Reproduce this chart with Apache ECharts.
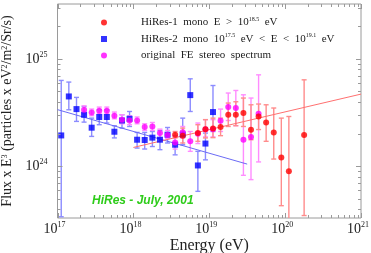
<!DOCTYPE html>
<html><head><meta charset="utf-8">
<script src="https://cdn.jsdelivr.net/npm/echarts@6/dist/echarts.min.js"></script>
<style>html,body{margin:0;padding:0;background:#fff}#c{width:371px;height:253px}</style>
</head><body><div id="c"></div>
<script>
// ---- data (energy in eV, flux x E^3) ----
const hires2E  = [1.12e17,1.41e17,1.78e17,2.24e17,2.82e17,3.55e17,4.47e17,5.62e17,7.08e17,8.91e17,1.12e18,1.41e18,1.78e18,2.24e18,2.82e18,3.55e18,4.47e18,5.62e18,7.08e18,8.91e18,1.12e19];
const hires2F  = [1.94e24,4.47e24,3.41e24,3.02e24,2.29e24,2.88e24,2.88e24,2.10e24,2.67e24,2.77e24,1.77e24,1.76e24,1.85e24,1.77e24,1.97e24,1.59e24,1.98e24,4.60e24,1.02e24,1.63e24,3.20e24];
const hires2Hi = [6.30e24,6.08e24,4.38e24,3.61e24,2.81e24,3.36e24,3.36e24,2.39e24,3.02e24,3.24e24,2.07e24,2.07e24,2.11e24,2.16e24,2.30e24,1.93e24,2.81e24,6.52e24,1.38e24,2.04e24,5.65e24];
const hires2Lo = [3.40e23,3.36e24,2.62e24,2.58e24,1.90e24,2.44e24,2.53e24,1.84e24,2.27e24,2.35e24,1.48e24,1.45e24,1.53e24,1.43e24,1.65e24,1.28e24,1.59e24,3.24e24,5.86e23,1.15e24,2.11e24];

const hires1E  = [3.55e18,4.47e18,7.08e18,8.91e18,1.12e19,1.41e19,1.78e19,2.24e19,2.82e19,3.55e19,4.47e19,5.62e19,7.08e19,8.91e19,1.12e20,1.78e20];
const hires1F  = [1.97e24,1.93e24,2.04e24,2.22e24,2.25e24,2.32e24,3.02e24,3.02e24,3.13e24,2.19e24,2.91e24,2.56e24,2.07e24,1.21e24,9.00e23,1.96e24];
const hires1Hi = [2.11e24,2.27e24,2.44e24,2.72e24,2.81e24,2.81e24,3.88e24,3.99e24,4.32e24,3.74e24,3.80e24,3.74e24,3.49e24,2.81e24,2.91e24,6.38e24];
const hires1Lo = [1.84e24,1.65e24,1.71e24,1.84e24,1.85e24,1.93e24,2.35e24,2.39e24,2.35e24,1.77e24,2.20e24,1.71e24,1.17e24,4.31e23,2.00e23,3.49e23];

const feE  = [2.24e17,2.82e17,3.55e17,4.47e17,5.62e17,7.08e17,8.91e17,1.12e18,1.41e18,1.78e18,2.24e18,2.82e18,3.55e18,4.47e18,5.62e18,7.08e18,8.91e18,1.12e19,1.41e19,1.78e19,2.24e19,2.82e19,3.55e19,4.47e19];
const feF  = [3.36e24,3.17e24,3.29e24,3.29e24,2.96e24,2.72e24,2.67e24,2.67e24,2.32e24,2.35e24,2.04e24,1.96e24,1.67e24,2.08e24,1.71e24,2.01e24,2.22e24,2.22e24,2.66e24,3.56e24,3.49e24,1.77e24,1.88e24,3.08e24];
const feHi = [3.66e24,3.41e24,3.56e24,3.56e24,3.20e24,3.02e24,2.96e24,2.88e24,2.49e24,2.56e24,2.22e24,2.16e24,1.88e24,2.35e24,2.11e24,2.53e24,2.72e24,2.72e24,3.41e24,4.81e24,5.08e24,4.63e24,4.32e24,7.10e24];
const feLo = [3.08e24,2.96e24,3.08e24,3.08e24,2.77e24,2.49e24,2.44e24,2.49e24,2.16e24,2.16e24,1.85e24,1.81e24,1.45e24,1.84e24,1.38e24,1.63e24,1.88e24,1.88e24,2.11e24,2.67e24,2.39e24,8.26e23,7.53e23,1.10e24];

const hires2FitE = [1e17, 3.16e19];
const hires2FitF = [3.37e24, 1.05e24];
const hires1FitE = [1e18, 1e21];
const hires1FitF = [1.50e24, 4.70e24];

const xMajorTicks = [1e17, 1e18, 1e19, 1e20, 1e21];
const yMajorTicks = [1e24, 1e25];
const xMin = 1e17, xMax = 1e21;
const yMin = Math.pow(10, 23.52), yMax = Math.pow(10, 25.51);

const seriesNames = ['HiRes-1 mono', 'HiRes-2 mono', 'original FE stereo spectrum'];
const legendRich = {
  'HiRes-1 mono': '{g|}HiRes-1  mono  E  >  10{s|18.5}  eV',
  'HiRes-2 mono': '{g|}HiRes-2  mono  10{s|17.5}  eV  <  E  <  10{s|19.1}  eV',
  'original FE stereo spectrum': '{g|}original  FE  stereo  spectrum'
};
const annotation = 'HiRes - July, 2001';

// ---- helpers ----
const SERIF = "'Liberation Serif','DejaVu Serif',serif";
const frameColor = '#9a9a9a';

function errSeries(E, Lo, Hi, color) {
  return {
    type: 'custom', silent: true, clip: true, z: 1,
    encode: { x: 0, y: [1, 2] },
    data: E.map((e, i) => [e, Lo[i], Hi[i]]),
    renderItem(params, api) {
      const x = api.value(0);
      const a = api.coord([x, api.value(1)]);
      const b = api.coord([x, api.value(2)]);
      const c = 2.5;
      const st = { stroke: color, lineWidth: 1.4 };
      return { type: 'group', children: [
        { type: 'line', shape: { x1: a[0], y1: a[1], x2: b[0], y2: b[1] }, style: st },
        { type: 'line', shape: { x1: a[0] - c, y1: a[1], x2: a[0] + c, y2: a[1] }, style: st },
        { type: 'line', shape: { x1: b[0] - c, y1: b[1], x2: b[0] + c, y2: b[1] }, style: st }
      ]};
    }
  };
}

// tick list: [x, y, kind(0=x tick,1=y tick), length]
const tickData = [];
xMajorTicks.forEach(v => tickData.push([v, 1e24, 0, 5]));
for (let n = 17; n < 21; n++) for (let k = 2; k <= 9; k++) tickData.push([k * Math.pow(10, n), 1e24, 0, 3]);
yMajorTicks.forEach(v => tickData.push([1e18, v, 1, 5]));
for (let n = 23; n <= 25; n++) for (let k = 2; k <= 9; k++) {
  const v = k * Math.pow(10, n);
  if (v > yMin && v < yMax) tickData.push([1e18, v, 1, 3]);
}

const tickSeries = {
  type: 'custom', silent: true, z: 5, clip: false,
  encode: { x: 0, y: 1 },
  data: tickData,
  renderItem(params, api) {
    const cs = params.coordSys;
    const p = api.coord([api.value(0), api.value(1)]);
    const len = api.value(3);
    const st = { stroke: frameColor, lineWidth: 1 };
    if (api.value(2) === 0) {
      const x = Math.round(p[0]) + 0.5;
      return { type: 'group', children: [
        { type: 'line', shape: { x1: x, y1: cs.y + cs.height, x2: x, y2: cs.y + cs.height - len }, style: st },
        { type: 'line', shape: { x1: x, y1: cs.y, x2: x, y2: cs.y + len }, style: st }
      ]};
    } else {
      const y = Math.round(p[1]) + 0.5;
      return { type: 'group', children: [
        { type: 'line', shape: { x1: cs.x, y1: y, x2: cs.x + len, y2: y }, style: st },
        { type: 'line', shape: { x1: cs.x + cs.width, y1: y, x2: cs.x + cs.width - len, y2: y }, style: st }
      ]};
    }
  }
};

function powLabel(v) {
  const l = Math.log10(v);
  const e = Math.round(l);
  if (Math.abs(l - e) > 1e-6) return '';
  return '{b|10}{s|' + e + '}';
}
const labelRich = {
  b: { fontFamily: SERIF, fontSize: 14, color: '#222', lineHeight: 16 },
  s: { fontFamily: SERIF, fontSize: 8, color: '#222', lineHeight: 8, verticalAlign: 'top' }
};

const chart = echarts.init(document.getElementById('c'), null, { renderer: 'canvas' });
chart.setOption({
  animation: false,
  backgroundColor: '#fff',
  grid: { left: 57.5, right: 10, top: 4, bottom: 35, containLabel: false, outerBoundsMode: 'none',
    show: true, borderColor: frameColor, borderWidth: 1, backgroundColor: 'transparent' },
  xAxis: {
    type: 'log', logBase: 10, min: xMin, max: xMax,
    axisLine: { show: false }, axisTick: { show: false }, splitLine: { show: false }, minorTick: { show: false },
    axisLabel: { formatter: powLabel, rich: labelRich, margin: 3, padding: [0, 6, 0, 0], showMinLabel: true, showMaxLabel: true, hideOverlap: false },
    name: 'Energy (eV)', nameLocation: 'middle', nameGap: 20, nameMoveOverlap: false,
    nameTextStyle: { fontFamily: SERIF, fontSize: 16, color: '#222', lineHeight: 16 }
  },
  yAxis: {
    type: 'log', logBase: 10, min: yMin, max: yMax,
    axisLine: { show: false }, axisTick: { show: false }, splitLine: { show: false }, minorTick: { show: false },
    axisLabel: { formatter: powLabel, rich: labelRich, margin: 10 },
    name: 'Flux x E{s|3} (particles x eV{s|2}/m{s|2}/Sr/s)', nameLocation: 'middle', nameGap: 43, nameRotate: 90, nameMoveOverlap: false,
    nameTextStyle: { fontFamily: SERIF, fontSize: 14, color: '#222',
      rich: { s: { fontFamily: SERIF, fontSize: 8, color: '#222', verticalAlign: 'top', lineHeight: 8 } } }
  },
  legend: {
    orient: 'vertical', left: 96, top: 11, itemWidth: 6, itemHeight: 6, itemGap: 3.5,
    selectedMode: false,
    data: [
      { name: seriesNames[0], icon: 'circle' },
      { name: seriesNames[1], icon: 'rect' },
      { name: seriesNames[2], icon: 'circle' }
    ],
    formatter: n => legendRich[n],
    textStyle: { fontFamily: SERIF, fontSize: 11, color: '#222', lineHeight: 13,
      rich: { g: { width: 29 }, s: { fontFamily: SERIF, fontSize: 6, color: '#222', verticalAlign: 'top', lineHeight: 6 } } }
  },
  graphic: [{
    type: 'text', left: 92, top: 195,
    style: { text: annotation, fontFamily: "'Liberation Sans',Arial,sans-serif", fontSize: 12, fontWeight: 'bold', fontStyle: 'italic', fill: '#2ecc1a' }
  }],
  series: [
    errSeries(hires2E, hires2Lo, hires2Hi, '#8c8cff'),
    errSeries(feE, feLo, feHi, '#ff8cff'),
    errSeries(hires1E, hires1Lo, hires1Hi, '#ff8c8c'),
    { type: 'line', silent: true, symbol: 'none', z: 2, data: hires2FitE.map((e, i) => [e, hires2FitF[i]]), lineStyle: { color: '#6b6bf5', width: 1 } },
    { type: 'line', silent: true, symbol: 'none', z: 2, data: hires1FitE.map((e, i) => [e, hires1FitF[i]]), lineStyle: { color: '#ff7070', width: 1 } },
    { name: seriesNames[1], type: 'scatter', z: 3, symbol: 'rect', symbolSize: 6, itemStyle: { color: '#0000ff' }, data: hires2E.map((e, i) => [e, hires2F[i]]) },
    { name: seriesNames[2], type: 'scatter', z: 3, symbol: 'circle', symbolSize: 6, itemStyle: { color: '#ff00ff' }, data: feE.map((e, i) => [e, feF[i]]) },
    { name: seriesNames[0], type: 'scatter', z: 4, symbol: 'circle', symbolSize: 6, itemStyle: { color: '#ff0000' }, data: hires1E.map((e, i) => [e, hires1F[i]]) },
    tickSeries
  ]
});
</script>
</body></html>
